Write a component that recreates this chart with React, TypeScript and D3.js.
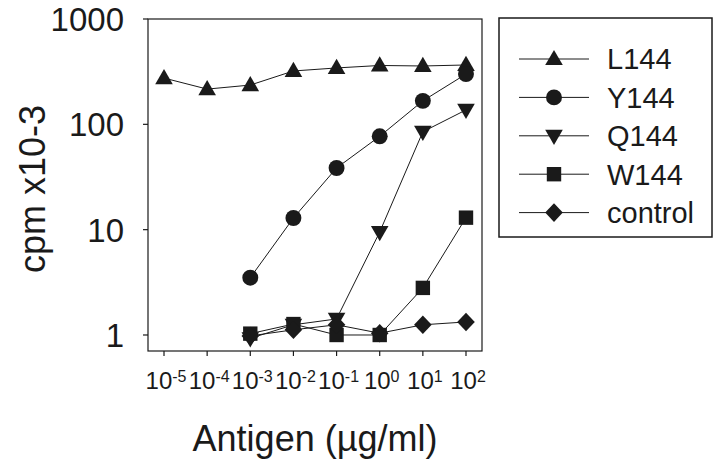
import React from "react";
import * as d3 from "d3";

const doses = [1e-5, 1e-4, 1e-3, 1e-2, 1e-1, 1, 10, 100];
const doseExponents = ["-5", "-4", "-3", "-2", "-1", "0", "1", "2"];
const yTicks = [1, 10, 100, 1000];

const L144 = [275, 216, 236, 321, 343, 362, 358, 366];
const Y144 = [null, null, 3.5, 12.9, 38.5, 77, 167, 300];
const Q144 = [null, null, 0.93, 1.25, 1.42, 9.5, 85, 137];
const W144 = [null, null, 1.03, 1.27, 1.0, 1.0, 2.8, 13];
const control = [null, null, 0.98, 1.12, 1.25, 1.04, 1.25, 1.33];

const seriesNames = ["L144", "Y144", "Q144", "W144", "control"];
const seriesValues = [L144, Y144, Q144, W144, control];
const seriesShapes = ["up", "circle", "down", "square", "diamond"];

const FONT = "'Liberation Sans', Arial, Helvetica, sans-serif";
const INK = "#1a1a1a";

function markerPath(shape: string, s: number): string {
  switch (shape) {
    case "up": {
      const h = s * 0.95;
      return `M0,${-h * 0.6}L${s * 0.55},${h * 0.4}L${-s * 0.55},${h * 0.4}Z`;
    }
    case "down": {
      const h = s * 0.95;
      return `M0,${h * 0.6}L${s * 0.55},${-h * 0.4}L${-s * 0.55},${-h * 0.4}Z`;
    }
    case "square":
      return `M${-s * 0.45},${-s * 0.45}h${s * 0.9}v${s * 0.9}h${-s * 0.9}Z`;
    case "diamond":
      return `M0,${-s * 0.58}L${s * 0.55},0L0,${s * 0.58}L${-s * 0.55},0Z`;
    default:
      return d3.symbol(d3.symbolCircle, s * s * 0.78)() as string;
  }
}

export default function App() {
  const W = 720, H = 473;
  const left = 148, right = 482, top = 19, bottom = 351;
  const x = d3.scaleLog().domain([Math.pow(10, -5.371), Math.pow(10, 2.371)]).range([left, right]);
  const y = d3.scaleLog().domain([Math.pow(10, -0.152), 1000]).range([bottom, top]);

  const line = d3
    .line<[number, number | null]>()
    .defined((d) => d[1] != null)
    .x((d) => x(d[0]))
    .y((d) => y(d[1] as number));

  const legX = 499, legY = 18, legW = 213, legH = 219;
  const legRow0 = 59, legStep = 38.4;

  return (
    <svg width={W} height={H} style={{ position: "absolute", left: 0, top: 0, background: "#fff" }}>
      <rect x={0} y={0} width={W} height={H} fill="#fff" />
      {/* frame */}
      <rect x={left} y={top} width={right - left} height={bottom - top} fill="none" stroke={INK} strokeWidth={1.2} />
      {/* y ticks */}
      {yTicks.map((t) => (
        <g key={"yt" + t}>
          <line x1={left - 5} x2={left} y1={y(t)} y2={y(t)} stroke={INK} strokeWidth={1.2} />
          <text x={124} y={y(t)} dy="0.36em" textAnchor="end" fontFamily={FONT} fontSize={33} fill={INK}>
            {t}
          </text>
        </g>
      ))}
      {/* x ticks */}
      {doses.map((d, i) => (
        <g key={"xt" + i}>
          <line x1={x(d)} x2={x(d)} y1={bottom} y2={bottom + 5} stroke={INK} strokeWidth={1.2} />
          <text x={x(d) + 2} y={389} textAnchor="middle" fontFamily={FONT} fontSize={24} fill={INK}>
            10
            <tspan fontSize={16} dy={-7}>{doseExponents[i]}</tspan>
          </text>
        </g>
      ))}
      {/* series */}
      {seriesValues.map((vals, si) => {
        const pts = doses.map((d, i) => [d, vals[i]] as [number, number | null]);
        return (
          <g key={"s" + si}>
            <path d={line(pts) as string} fill="none" stroke={INK} strokeWidth={1} />
            {pts
              .filter((p) => p[1] != null)
              .map((p, j) => (
                <path
                  key={j}
                  transform={`translate(${x(p[0])},${y(p[1] as number)})`}
                  d={markerPath(seriesShapes[si], 16)}
                  fill={INK}
                />
              ))}
          </g>
        );
      })}
      {/* axis titles */}
      <text x={315} y={451} textAnchor="middle" fontFamily={FONT} fontSize={36} fill={INK}>
        Antigen (µg/ml)
      </text>
      <text
        transform={`translate(45,189) rotate(-90)`}
        textAnchor="middle"
        fontFamily={FONT}
        fontSize={36}
        fill={INK}
      >
        cpm x10-3
      </text>
      {/* legend */}
      <rect x={legX} y={legY} width={legW} height={legH} fill="#fff" stroke={INK} strokeWidth={1.5} />
      {seriesNames.map((n, i) => {
        const cy = legRow0 + i * legStep;
        return (
          <g key={"lg" + i}>
            <line x1={519} x2={589} y1={cy} y2={cy} stroke={INK} strokeWidth={1} />
            <path transform={`translate(554,${cy})`} d={markerPath(seriesShapes[i], 16)} fill={INK} />
            <text x={607} y={cy} dy="0.36em" fontFamily={FONT} fontSize={29} fill={INK}>
              {n}
            </text>
          </g>
        );
      })}
    </svg>
  );
}
